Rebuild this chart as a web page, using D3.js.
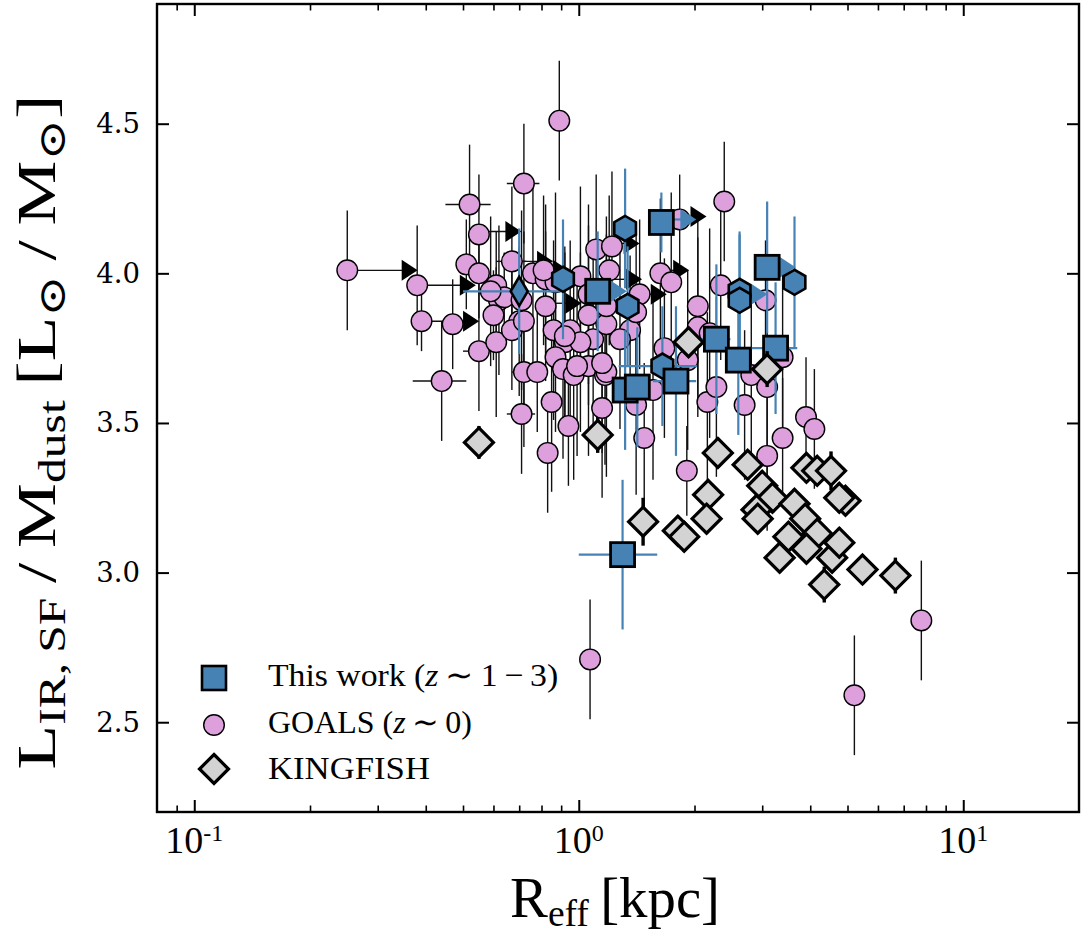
<!DOCTYPE html>
<html>
<head>
<meta charset="utf-8">
<script src="https://cdn.jsdelivr.net/npm/d3@7"></script>
<style>
  body { margin: 0; background: #fff; }
  svg { display: block; }
</style>
</head>
<body>
<svg id="chart" width="1081" height="934"></svg>
<script>
// ---------------- data ----------------
// GOALS (z~0): effective radius [kpc], log L_IR,SF / M_dust, and errors
const goalsReff = [0.25,0.38,0.39,0.44,0.47,0.51,0.52,0.55,0.55,0.61,0.62,0.60,0.55,0.61,0.72,0.89,
  0.67,0.76,0.82,0.86,0.92,0.70,0.67,0.72,0.78,0.85,0.71,0.83,0.94,0.87,0.91,0.97,1.06,1.17,1.15,1.09,
  1.06,1.18,1.11,1.22,1.01,1.06,1.44,0.64,0.71,0.72,0.82,0.87,0.95,1.18,1.36,1.20,1.63,1.74,2.04,2.34,
  3.06,1.41,2.39,1.83,1.18,1.41,1.48,1.56,1.91,2.16,2.28,2.70,2.81,3.09,3.09,3.39,3.39,3.90,4.10,7.78,
  5.21,1.07,1.67,1.92,0.99,1.28,2.04,2.19,1.01,1.15,0.59,0.81,0.92];
const goalsRatio = [4.01,3.96,3.84,3.64,3.83,4.03,4.23,4.13,4.00,3.96,3.91,3.86,3.74,3.77,4.30,4.51,
  4.04,4.00,3.89,3.81,3.77,3.84,3.81,3.67,3.67,3.57,3.53,3.40,3.49,3.72,3.68,3.66,3.69,3.66,3.55,3.78,
  3.86,3.83,4.08,4.09,3.99,3.93,3.93,3.92,3.91,3.84,3.98,3.97,3.81,3.89,3.81,4.01,4.00,3.97,3.89,3.96,
  3.91,3.87,4.24,4.18,3.67,3.56,3.45,3.61,3.34,3.57,3.62,3.56,3.66,3.62,3.39,3.45,3.72,3.52,3.48,2.84,
  2.59,2.71,3.75,3.71,3.69,3.78,3.82,3.80,3.77,3.70,3.94,4.01,3.79];
const goalsRatioErr = [0.20,0.20,0.10,0.20,0.15,0.15,0.20,0.20,0.15,0.18,0.25,0.15,0.20,0.25,0.20,0.20,
  0.25,0.30,0.25,0.30,0.30,0.25,0.20,0.25,0.20,0.30,0.20,0.20,0.20,0.25,0.30,0.35,0.30,0.30,0.30,0.30,
  0.30,0.30,0.25,0.25,0.30,0.30,0.25,0.15,0.30,0.30,0.25,0.30,0.30,0.30,0.25,0.25,0.25,0.30,0.30,0.25,
  0.20,0.30,0.20,0.15,0.35,0.30,0.25,0.30,0.15,0.30,0.30,0.25,0.30,0.30,0.25,0.20,0.30,0.20,0.20,0.20,
  0.20,0.20,0.30,0.30,0.30,0.30,0.30,0.35,0.30,0.30,0.25,0.25,0.30];
const goalsReffErr = [0,0,0,0.07,0,0,0.07,0,0,0,0,0,0.05,0,0.07,0.05,
  0.06,0,0,0,0,0,0,0.05,0,0,0.06,0.05,0,0,0,0,0,0,0,0,
  0,0,0,0,0,0,0,0,0,0,0,0,0,0,0,0,0,0,0,0,
  0,0,0,0,0,0,0,0,0,0,0,0,0,0,0,0,0,0,0,0,
  0,0,0,0,0,0,0,0,0,0,0,0,0];

// GOALS lower limits in R_eff: arrow tip position and the size it starts from
const goalsLimReff = [0.36,0.51,0.52,0.67,0.81,0.96,0.89,1.36,1.38,1.83,2.03,1.60];
const goalsLimRatio = [4.01,3.96,3.84,4.14,4.04,3.90,4.01,4.10,3.98,4.01,4.19,3.93];
const goalsLimFrom = [0.25,0.38,0.39,0.55,0.67,0.82,0.76,1.22,1.20,1.63,1.83,1.44];

// This work (z~1-3): squares
const workReff = [1.64,3.09,1.12,2.28,2.60,3.25,1.79,1.32,1.42,1.30];
const workRatio = [4.17,4.02,3.94,3.78,3.71,3.75,3.64,3.61,3.62,3.06];
const workRatioErr = [0.10,0.22,0.20,0.25,0.25,0.22,0.25,0.20,0.20,0.25];
const workReffErr = [0,0,0,0.20,0.20,0.45,0.23,0,0,0.30];

// This work: hexagons
const hexReff = [0.91,1.32,1.34,1.65,2.62,2.62,3.64];
const hexRatio = [3.98,4.15,3.89,3.69,3.94,3.91,3.97];
const hexRatioErr = [0.20,0.20,0.20,0.20,0.20,0.22,0.22];
const hexReffErr = [0,0,0,0.38,0,0,0];

// This work: thin diamond
const thinReff = [0.70];
const thinRatio = [3.94];
const thinRatioErr = [0.21];
const thinReffErr = [0.20];

// This work lower limits in R_eff
const workLimReff = [1.26,1.91,3.46,2.92];
const workLimRatio = [3.94,4.18,4.02,3.93];
const workLimFrom = [1.12,1.64,3.09,2.62];

// KINGFISH
const kfReff = [0.55,1.12,1.93,3.09,2.30,2.17,2.15,1.47,1.81,1.88,2.75,3.00,3.19,2.90,2.92,3.64,
  3.88,4.17,3.51,3.91,3.33,4.56,4.76,4.35,5.47,6.66,3.91,4.17,4.53,4.94,4.76];
const kfRatio = [3.435,3.46,3.77,3.68,3.40,3.26,3.18,3.17,3.14,3.12,3.36,3.29,3.25,3.21,3.18,3.23,
  3.18,3.13,3.12,3.08,3.05,3.05,3.10,2.96,3.01,2.99,3.35,3.34,3.34,3.24,3.25];
const kfRatioErr = [0.055,0.06,0.05,0.06,0.05,0.05,0.05,0.08,0.05,0.05,0.05,0.05,0.05,0.05,0.05,0.05,
  0.05,0.05,0.05,0.05,0.05,0.05,0.05,0.06,0.05,0.06,0.05,0.05,0.065,0.05,0.05];

// axis ticks
const xMajor = [0.1, 1, 10];
const xMajorExp = ["-1", "0", "1"];
const xMinor = [0.09,0.2,0.3,0.4,0.5,0.6,0.7,0.8,0.9,2,3,4,5,6,7,8,9];
const yMajor = [2.5, 3.0, 3.5, 4.0, 4.5];

const legendLabels = ["This work", "GOALS", "KINGFISH"];

// ---------------- layout ----------------
const svg = d3.select("#chart");
const L = 157, R = 1079, T = 4, B = 812;
const x = d3.scaleLog().domain([0.08, 20]).range([L, R]);
const y = d3.scaleLinear().domain([2.2, 4.9]).range([B, T]);

const blue = "#4682b4", plum = "#dda0dd", grey = "#d3d3d3";
const serif = "'Liberation Serif', 'Times New Roman', serif";

const zip = (...arrs) => arrs[0].map((_, i) => arrs.map(a => a[i]));

const plot = svg.append("g");

// marker shapes (centred on 0,0)
function polyPath(pts) { return "M" + pts.map(p => p.join(",")).join("L") + "Z"; }
const hexPath = polyPath(d3.range(6).map(k => {
  const a = Math.PI / 2 + k * Math.PI / 3;
  return [12.5 * Math.cos(a), -12.5 * Math.sin(a)];
}));
const bigDiamond = polyPath([[0,-14.5],[14.5,0],[0,14.5],[-14.5,0]]);
const thinDiamond = polyPath([[0,-14.5],[8.5,0],[0,14.5],[-8.5,0]]);
const triRight = polyPath([[-6.5,-10.5],[9.5,0],[-6.5,10.5]]);

function errorBars(g, data, color, width) {
  // data rows: [reff, ratio, ratioErr, reffErr]
  g.selectAll(null).data(data).enter().append("line")
    .attr("x1", d => x(d[0])).attr("x2", d => x(d[0]))
    .attr("y1", d => y(d[1] - d[2])).attr("y2", d => y(d[1] + d[2]))
    .attr("stroke", color).attr("stroke-width", width);
  g.selectAll(null).data(data.filter(d => d[3] > 0)).enter().append("line")
    .attr("x1", d => x(d[0] - d[3])).attr("x2", d => x(d[0] + d[3]))
    .attr("y1", d => y(d[1])).attr("y2", d => y(d[1]))
    .attr("stroke", color).attr("stroke-width", width);
}

// GOALS
const goals = zip(goalsReff, goalsRatio, goalsRatioErr, goalsReffErr);
const gGoals = plot.append("g");
errorBars(gGoals, goals, "#111", 1.4);
const goalsLim = zip(goalsLimReff, goalsLimRatio, goalsLimFrom);
gGoals.selectAll(null).data(goalsLim).enter().append("line")
  .attr("x1", d => x(d[2])).attr("x2", d => x(d[0]))
  .attr("y1", d => y(d[1])).attr("y2", d => y(d[1]))
  .attr("stroke", "#111").attr("stroke-width", 1.4);
gGoals.selectAll(null).data(goalsLim).enter().append("path")
  .attr("d", triRight)
  .attr("transform", d => `translate(${x(d[0])},${y(d[1])})`)
  .attr("fill", "#000");
gGoals.selectAll(null).data(goals).enter().append("circle")
  .attr("cx", d => x(d[0])).attr("cy", d => y(d[1])).attr("r", 10.3)
  .attr("fill", plum).attr("stroke", "#000").attr("stroke-width", 1.4);

// This work
const work = zip(workReff, workRatio, workRatioErr, workReffErr);
const hex = zip(hexReff, hexRatio, hexRatioErr, hexReffErr);
const thin = zip(thinReff, thinRatio, thinRatioErr, thinReffErr);
const workLim = zip(workLimReff, workLimRatio, workLimFrom);
const gWork = plot.append("g");
errorBars(gWork, work.concat(hex, thin), blue, 2.2);
gWork.selectAll(null).data(workLim).enter().append("line")
  .attr("x1", d => x(d[2])).attr("x2", d => x(d[0]))
  .attr("y1", d => y(d[1])).attr("y2", d => y(d[1]))
  .attr("stroke", blue).attr("stroke-width", 2.2);
gWork.selectAll(null).data(workLim).enter().append("path")
  .attr("d", triRight)
  .attr("transform", d => `translate(${x(d[0])},${y(d[1])})`)
  .attr("fill", blue);
gWork.selectAll(null).data(hex).enter().append("path")
  .attr("d", hexPath)
  .attr("transform", d => `translate(${x(d[0])},${y(d[1])})`)
  .attr("fill", blue).attr("stroke", "#000").attr("stroke-width", 2.6);
gWork.selectAll(null).data(thin).enter().append("path")
  .attr("d", thinDiamond)
  .attr("transform", d => `translate(${x(d[0])},${y(d[1])})`)
  .attr("fill", blue).attr("stroke", "#000").attr("stroke-width", 2.6);
gWork.selectAll(null).data(work).enter().append("rect")
  .attr("x", d => x(d[0]) - 12).attr("y", d => y(d[1]) - 12)
  .attr("width", 24).attr("height", 24)
  .attr("fill", blue).attr("stroke", "#000").attr("stroke-width", 2.8);

// KINGFISH
const kf = zip(kfReff, kfRatio, kfRatioErr, kfReff.map(() => 0));
const gKf = plot.append("g");
errorBars(gKf, kf, "#000", 3.4);
gKf.selectAll(null).data(kf).enter().append("path")
  .attr("d", bigDiamond)
  .attr("transform", d => `translate(${x(d[0])},${y(d[1])})`)
  .attr("fill", grey).attr("stroke", "#000").attr("stroke-width", 3.2);

// ---------------- axes ----------------
function styleAxis(g) {
  g.select(".domain").remove();
  g.selectAll(".tick line").attr("stroke", "#000");
}
svg.append("g").attr("transform", `translate(0,${B})`)
  .call(d3.axisBottom(x).tickValues(xMajor).tickSize(-12).tickFormat(""))
  .call(styleAxis).selectAll(".tick line").attr("stroke-width", 2);
svg.append("g").attr("transform", `translate(0,${B})`)
  .call(d3.axisBottom(x).tickValues(xMinor).tickSize(-6.5).tickFormat(""))
  .call(styleAxis).selectAll(".tick line").attr("stroke-width", 1.6);
svg.append("g").attr("transform", `translate(0,${T})`)
  .call(d3.axisTop(x).tickValues(xMajor).tickSize(-12).tickFormat(""))
  .call(styleAxis).selectAll(".tick line").attr("stroke-width", 2);
svg.append("g").attr("transform", `translate(0,${T})`)
  .call(d3.axisTop(x).tickValues(xMinor).tickSize(-6.5).tickFormat(""))
  .call(styleAxis).selectAll(".tick line").attr("stroke-width", 1.6);

const yAxisL = svg.append("g").attr("transform", `translate(${L},0)`)
  .call(d3.axisLeft(y).tickValues(yMajor).tickSize(-12).tickPadding(17).tickFormat(d3.format(".1f")))
  .call(styleAxis);
yAxisL.selectAll(".tick line").attr("stroke-width", 2);
yAxisL.selectAll(".tick text")
  .attr("font-family", "'DejaVu Serif', serif").attr("font-size", 27.5).attr("fill", "#000");
svg.append("g").attr("transform", `translate(${R},0)`)
  .call(d3.axisRight(y).tickValues(yMajor).tickSize(-12).tickFormat(""))
  .call(styleAxis).selectAll(".tick line").attr("stroke-width", 2);

// x tick labels as powers of ten
const xLab = svg.append("g");
xMajor.forEach((v, i) => {
  const t = xLab.append("text")
    .attr("x", x(v)).attr("y", 853)
    .attr("text-anchor", "middle")
    .attr("font-family", serif).attr("font-size", 38).attr("fill", "#000");
  t.append("tspan").text("10");
  t.append("tspan").attr("font-size", 24).attr("dy", -12).text(xMajorExp[i]);
});

// frame
svg.append("rect").attr("x", L).attr("y", T).attr("width", R - L).attr("height", B - T)
  .attr("fill", "none").attr("stroke", "#000").attr("stroke-width", 2.4);

// stretch a text element horizontally so that its advance equals `target`
function fitWidth(text, target) {
  const w = text.node().getBBox().width;
  return w > 0 ? target / w : 1;
}

// x label
const xl = svg.append("text").attr("text-anchor", "middle")
  .attr("font-family", serif).attr("font-size", 56).attr("fill", "#000");
xl.append("tspan").text("R");
xl.append("tspan").attr("font-size", 37).attr("dy", 9).text("eff");
xl.append("tspan").attr("dy", -9).text("\u2009[kpc]");
{
  const s = fitWidth(xl, 210);
  xl.attr("transform", `translate(615,917) scale(${s},1)`);
}

// y label
const yl = svg.append("text").attr("text-anchor", "middle")
  .attr("font-family", serif).attr("font-size", 56).attr("fill", "#000");
yl.append("tspan").text("L");
yl.append("tspan").attr("font-size", 38).attr("dy", 10).text("IR,\u2009SF");
yl.append("tspan").attr("dy", -10).text("\u2009/\u2009M");
yl.append("tspan").attr("font-size", 38).attr("dy", 10).text("dust");
yl.append("tspan").attr("dy", -10).text("\u2009[L");
yl.append("tspan").attr("font-size", 38).attr("dy", 10).attr("font-family", "'DejaVu Serif', serif").text("\u2299");
yl.append("tspan").attr("dy", -10).text("\u2009/\u2009M");
yl.append("tspan").attr("font-size", 38).attr("dy", 10).attr("font-family", "'DejaVu Serif', serif").text("\u2299");
yl.append("tspan").attr("dy", -10).text("]");
{
  const s = fitWidth(yl, 675);
  yl.attr("transform", `translate(55,432) rotate(-90) scale(${s},1)`);
}

// ---------------- legend ----------------
const lg = svg.append("g");
lg.append("rect").attr("x", 214 - 12).attr("y", 678 - 12).attr("width", 24).attr("height", 24)
  .attr("fill", blue).attr("stroke", "#000").attr("stroke-width", 2.6);
lg.append("circle").attr("cx", 214).attr("cy", 725).attr("r", 10.3)
  .attr("fill", plum).attr("stroke", "#000").attr("stroke-width", 1.4);
lg.append("path").attr("d", bigDiamond).attr("transform", "translate(214,769)")
  .attr("fill", grey).attr("stroke", "#000").attr("stroke-width", 3.2);

const legendRows = [
  { base: 686, width: 290, label: legendLabels[0], math: ["z", "\u2009\u223C\u20091\u2009\u2212\u20093"] },
  { base: 733, width: 204, label: legendLabels[1], math: ["z", "\u2009\u223C\u20090"] },
  { base: 779, width: 162, label: legendLabels[2], math: null }
];
legendRows.forEach(r => {
  const t = lg.append("text").attr("font-family", serif).attr("font-size", 32).attr("fill", "#000");
  t.append("tspan").text(r.label);
  if (r.math) {
    t.append("tspan").text(" (");
    t.append("tspan").attr("font-style", "italic").text(r.math[0]);
    t.append("tspan").text(r.math[1] + ")");
  }
  const s = fitWidth(t, r.width);
  t.attr("transform", `translate(268,${r.base}) scale(${s},1)`);
});
</script>
</body>
</html>
